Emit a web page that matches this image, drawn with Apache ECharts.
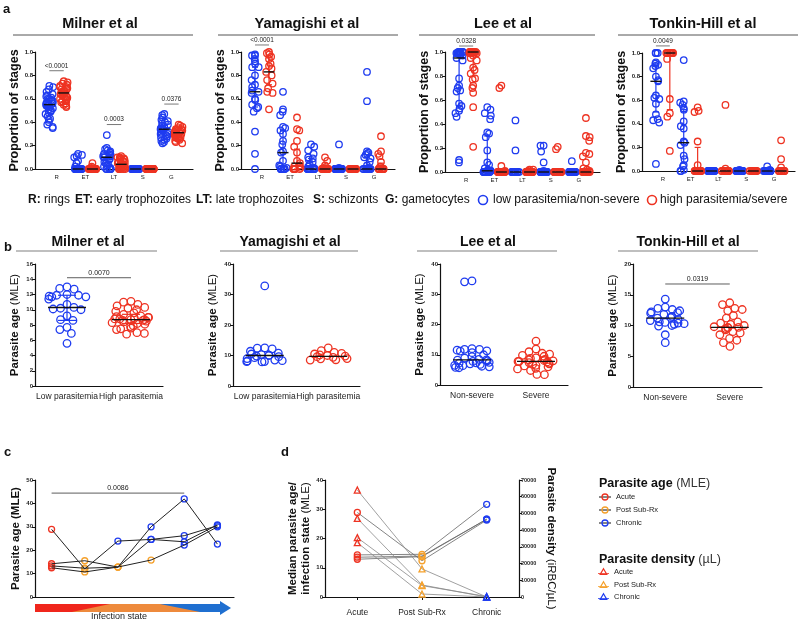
<!DOCTYPE html>
<html>
<head>
<meta charset="utf-8">
<script src="https://cdn.jsdelivr.net/npm/echarts@6.0.0/dist/echarts.min.js"></script>
<style>
html, body { margin: 0; padding: 0; background: #fff; }
#main { width: 800px; height: 621px; }
</style>
</head>
<body>
<div id="main"></div>
<script>
var FONT = "'Liberation Sans', Arial, Helvetica, sans-serif";
var BLUE = '#1f3cf0';
var RED = '#ee3322';
var ORANGE = '#f5a12c';

// ---- panel a: proportion of stages, order R, ET, LT, S, G
var stageLabels = ['R', 'ET', 'LT', 'S', 'G'];
var studyTitles = ['Milner et al', 'Yamagishi et al', 'Lee et al', 'Tonkin-Hill et al'];

var milnerLow = [
  [0.71,0.70,0.68,0.66,0.64,0.63,0.62,0.61,0.60,0.60,0.59,0.58,0.58,0.57,0.56,0.56,0.55,0.55,0.54,0.54,0.53,0.52,0.51,0.50,0.49,0.48,0.47,0.45,0.43,0.42,0.40,0.38,0.36,0.35],
  [0.13,0.12,0.11,0.10,0.07,0.05,0.02,0,0,0,0,0,0,0,0,0,0,0,0,0,0,0,0,0,0,0,0],
  [0.29,0.18,0.17,0.16,0.15,0.14,0.13,0.12,0.12,0.11,0.11,0.10,0.10,0.09,0.08,0.07,0.06,0.05,0.04,0.03,0.02,0.01,0,0,0,0,0],
  [0,0,0,0,0,0,0,0,0,0,0,0,0,0,0,0,0,0,0,0,0,0,0,0,0,0,0,0],
  [0.47,0.46,0.44,0.42,0.41,0.40,0.39,0.38,0.37,0.36,0.35,0.35,0.34,0.34,0.33,0.33,0.32,0.31,0.30,0.30,0.29,0.28,0.27,0.26,0.25,0.24,0.23,0.22]
];
var milnerHigh = [
  [0.75,0.74,0.73,0.72,0.71,0.70,0.70,0.69,0.68,0.68,0.67,0.66,0.66,0.65,0.65,0.64,0.64,0.63,0.62,0.62,0.61,0.60,0.60,0.59,0.58,0.58,0.57,0.56,0.55,0.54,0.53],
  [0.05,0.02,0.01,0,0,0,0,0,0,0,0,0,0,0,0,0,0,0,0,0,0,0,0,0,0,0,0],
  [0.11,0.10,0.10,0.09,0.09,0.08,0.08,0.07,0.07,0.06,0.06,0.05,0.05,0.04,0.04,0.04,0.03,0.03,0.03,0.02,0.02,0.02,0.01,0.01,0.01,0.01,0,0,0,0,0],
  [0,0,0,0,0,0,0,0,0,0,0,0,0,0,0,0,0,0,0,0,0,0,0,0,0,0,0,0],
  [0.38,0.37,0.36,0.35,0.34,0.34,0.33,0.33,0.32,0.32,0.31,0.31,0.31,0.30,0.30,0.30,0.29,0.29,0.28,0.28,0.27,0.27,0.26,0.26,0.25,0.24,0.23,0.22]
];
var yamLow = [
  [0.98,0.97,0.97,0.94,0.92,0.90,0.87,0.87,0.80,0.76,0.72,0.70,0.67,0.66,0.65,0.60,0.59,0.55,0.53,0.52,0.49,0.32,0.13,0.0],
  [0.66,0.51,0.49,0.46,0.36,0.35,0.33,0.30,0.24,0.21,0.15,0.14,0.07,0.03,0.02,0.01,0,0,0,0,0,0,0],
  [0.21,0.19,0.16,0.13,0.10,0.09,0.08,0.06,0.04,0.02,0.01,0,0,0,0,0,0,0,0,0,0,0,0],
  [0.21,0.01,0,0,0,0,0,0,0,0,0,0,0,0,0,0,0,0,0,0,0,0,0],
  [0.83,0.58,0.15,0.14,0.13,0.12,0.10,0.09,0.06,0.03,0.01,0,0,0,0,0,0,0,0,0,0,0,0]
];
var yamHigh = [
  [1.0,0.99,0.98,0.96,0.94,0.90,0.88,0.86,0.83,0.80,0.76,0.73,0.69,0.66,0.65,0.51],
  [0.44,0.34,0.33,0.24,0.19,0.14,0.07,0.05,0.03,0.02,0.01,0,0,0,0,0],
  [0.10,0.07,0.03,0.01,0,0,0,0,0,0,0,0,0,0,0,0],
  [0,0,0,0,0,0,0,0,0,0,0,0,0,0,0,0],
  [0.28,0.15,0.13,0.11,0.06,0.02,0,0,0,0,0,0,0,0,0,0]
];
var leeLow = [
  [1.0,1.0,1.0,1.0,1.0,1.0,0.99,0.99,0.99,0.99,0.98,0.98,0.98,0.97,0.95,0.93,0.78,0.72,0.70,0.68,0.67,0.57,0.55,0.53,0.51,0.49,0.46,0.10,0.08],
  [0.54,0.52,0.49,0.47,0.44,0.33,0.32,0.29,0.18,0.08,0.06,0.03,0.02,0.01,0.01,0.01,0.01,0,0,0,0,0,0,0,0,0,0,0,0,0,0],
  [0.43,0.18,0,0,0,0,0,0,0,0,0,0,0,0,0,0,0,0,0,0,0,0,0,0],
  [0.22,0.22,0.17,0.08,0.01,0,0,0,0,0,0,0,0,0,0,0,0,0,0,0,0,0,0],
  [0.09,0,0,0,0,0,0,0,0,0,0,0,0,0,0,0,0,0,0,0,0,0,0]
];
var leeHigh = [
  [1.0,1.0,1.0,1.0,1.0,1.0,1.0,1.0,1.0,1.0,0.99,0.99,0.99,0.97,0.95,0.93,0.87,0.85,0.82,0.78,0.77,0.72,0.70,0.66,0.54,0.21],
  [0.72,0.70,0.05,0.01,0,0,0,0,0,0,0,0,0,0,0,0,0,0,0,0,0,0,0,0],
  [0.02,0.02,0.01,0,0,0,0,0,0,0,0,0,0,0,0,0,0,0,0,0,0],
  [0.21,0.19,0,0,0,0,0,0,0,0,0,0,0,0,0,0,0,0,0,0,0,0],
  [0.45,0.30,0.29,0.26,0.16,0.15,0.13,0.08,0.03,0.02,0.01,0,0,0,0,0,0,0,0,0,0,0,0]
];
var thLow = [
  [1.0,1.0,1.0,0.92,0.91,0.90,0.89,0.87,0.80,0.77,0.76,0.64,0.62,0.61,0.57,0.48,0.44,0.43,0.41,0.06],
  [0.94,0.59,0.58,0.56,0.53,0.52,0.42,0.38,0.36,0.25,0.24,0.22,0.13,0.10,0.05,0.04,0.01,0,0],
  [0,0,0,0,0,0,0,0,0,0,0,0,0,0,0,0,0,0],
  [0.01,0,0,0,0,0,0,0,0,0,0,0,0,0,0,0,0,0],
  [0.04,0.01,0,0,0,0,0,0,0,0,0,0,0,0,0,0,0,0]
];
var thHigh = [
  [1.0,1.0,1.0,1.0,1.0,1.0,1.0,1.0,1.0,1.0,0.95,0.61,0.49,0.46,0.17],
  [0.54,0.51,0.50,0.25,0.05,0,0,0,0,0,0,0,0,0,0,0,0],
  [0.56,0.02,0,0,0,0,0,0,0,0,0,0,0,0,0,0],
  [0,0,0,0,0,0,0,0,0,0,0,0,0,0,0,0],
  [0.26,0.10,0.03,0,0,0,0,0,0,0,0,0,0,0,0]
];
// medians and [q1, q3] as drawn (null = no bar visible)
var aLowMed = [[0.55,0,0.10,0,0.34],[0.66,0.14,0,0,0],[0.95,0.01,0,0,0],[0.76,0.24,0,0,0]];
var aHighMed = [[0.65,0,0.04,0,0.31],[0.83,0.05,0,0,0],[1.0,0,0,0,0],[1.0,0,0,0,0]];
var aLowIqr = [
  [null,null,null,null,null],
  [[0.53,0.87],[0.02,0.33],[0,0.09],null,[0,0.10]],
  [[0.55,0.99],[0,0.30],null,null,null],
  [[0.50,0.90],[0.07,0.52],null,null,null]
];
var aHighIqr = [
  [null,null,null,null,null],
  [[0.72,0.95],[0,0.17],[0,0.01],null,[0,0.05]],
  [[0.80,1.0],null,null,null,[0,0.03]],
  [[0.52,1.0],[0,0.20],null,null,null]
];
// p-values: [stage, bracket height, text]
var aPvals = [
  [[0,0.84,'<0.0001'],[2,0.38,'0.0003'],[4,0.555,'0.0376']],
  [[0,1.06,'<0.0001']],
  [[0,1.05,'0.0328']],
  [[0,1.06,'0.0049']]
];

// ---- panel b: parasite age (MLE)
var bGroupLabels = [['Low parasitemia','High parasitemia'],['Low parasitemia','High parasitemia'],['Non-severe','Severe'],['Non-severe','Severe']];
var bYMax = [16, 40, 40, 20];
var bYStep = [2, 10, 10, 5];
var milnerAgeLow = [13.0,12.8,12.7,12.0,11.9,11.9,11.8,11.7,11.7,11.4,10.7,10.3,10.2,10.1,10.0,9.2,8.7,8.6,7.7,7.4,6.9,5.6];
var milnerAgeHigh = [11.1,11.0,10.7,10.5,10.3,10.2,10.0,9.8,9.6,9.4,9.2,9.1,9.0,9.0,8.9,8.8,8.8,8.7,8.7,8.6,8.6,8.5,8.4,8.3,8.2,8.1,7.9,7.8,7.6,7.5,7.4,7.0,6.9,6.8];
var yamAgeLow = [32.8,12.5,12.4,12.2,11.4,10.8,10.5,10.3,10.1,10.0,9.8,9.6,9.3,9.0,8.5,8.3,8.2,8.0,8.0,7.9];
var yamAgeHigh = [12.5,11.6,11.0,10.7,10.5,10.2,10.0,9.8,9.6,9.4,9.0,8.9,8.6,8.5];
var leeAgeLow = [34.4,34.1,12.0,11.8,11.8,11.5,11.3,11.2,10.7,10.0,9.4,8.9,8.5,8.3,8.2,8.0,7.8,7.5,7.3,7.2,7.0,6.8,6.5,6.4,6.2,6.0,5.8,5.7];
var leeAgeHigh = [14.5,11.9,11.0,10.5,10.2,9.8,9.5,9.0,8.8,8.5,8.3,8.1,8.0,7.8,7.8,7.6,7.4,7.2,7.0,6.8,6.5,6.3,6.0,5.5,5.3,4.8,3.5,3.4];
var thAgeLow = [14.3,13.0,12.8,12.6,12.4,12.2,12.1,12.0,11.8,11.5,11.3,11.2,11.0,10.8,10.6,10.5,10.4,10.3,10.2,10.0,9.9,8.5,7.2];
var thAgeHigh = [13.7,13.4,12.8,12.6,12.4,11.6,11.2,10.6,10.4,10.2,10.0,9.8,9.7,9.7,9.6,9.5,9.3,9.0,8.8,8.5,7.9,7.6,7.2,6.6];
var bMed = [[10.3,8.7],[10.0,9.7],[8.3,7.8],[11.2,9.7]];
var bIqr = [[[8.6,11.9],[8.2,9.4]],[null,null],[null,null],[null,null]];
var bPvals = [[14.2,'0.0070'], null, null, [16.75,'0.0319']];

// ---- panel c: parasite age along infection state (one row per subject)
var cAge = [
  [28.9,12.0,23.9,24.6,23.6,30.8],
  [14.2,15.5,12.8,30.0,41.9,22.6],
  [13.3,12.3,12.8,24.6,26.2,30.5],
  [12.5,10.7,12.8,15.8,22.2,30.0]
];
var cState = [
  ['A','P','C','C','C','C'],
  ['A','P','P','C','C','C'],
  ['A','P','P','C','C','C'],
  ['A','P','P','P','C','C']
];
var cPval = [0, 4, 44.4, '0.0086'];

// ---- panel d: median age and density per state
var dStates = ['Acute', 'Post Sub-Rx', 'Chronic'];
var dAge = [[28.9,12.4,26.3],[14.4,14.6,31.7],[13.6,14.0,26.6],[12.9,13.8,26.6]];
var dDensity = [[64000,16800,0],[47000,7200,0],[35500,6800,300],[32500,1800,0]];

var stateColor = { A: RED, P: ORANGE, C: BLUE };
var stateOrder = ['A', 'P', 'C'];

var grids = [], xAxes = [], yAxes = [], series = [];
var axLine = { show: true, lineStyle: { color: '#111', width: 1.2 } };
var axTick = { show: true, length: 3, lineStyle: { color: '#111', width: 1 } };

function lineEl(x1, y1, x2, y2, color, w) {
  return { type: 'line', shape: { x1: x1, y1: y1, x2: x2, y2: y2 }, style: { stroke: color, lineWidth: w } };
}

function statSeries(ax, rows, color, medW, capW) {
  return {
    type: 'custom', xAxisIndex: ax, yAxisIndex: ax, data: rows, silent: true, z: 5,
    encode: { x: 0, y: [1, 2, 3] },
    renderItem: function (params, api) {
      var x = api.value(0), m = api.value(1), lo = api.value(2), hi = api.value(3);
      var c = api.coord([x, m]);
      var kids = [];
      if (hi > lo) {
        var a = api.coord([x, lo]), b = api.coord([x, hi]);
        kids.push(lineEl(a[0], a[1], b[0], b[1], color, 1.2));
        kids.push(lineEl(a[0] - capW / 2, a[1], a[0] + capW / 2, a[1], color, 1.2));
        kids.push(lineEl(b[0] - capW / 2, b[1], b[0] + capW / 2, b[1], color, 1.2));
      }
      kids.push(lineEl(c[0] - medW / 2, c[1], c[0] + medW / 2, c[1], '#111', 1.4));
      return { type: 'group', children: kids };
    }
  };
}

function pvalSeries(ax, rows, texts, fs, color) {
  return {
    type: 'custom', xAxisIndex: ax, yAxisIndex: ax, data: rows, silent: true, z: 6, clip: false,
    encode: { x: [0, 1], y: 2 },
    renderItem: function (params, api) {
      var p1 = api.coord([api.value(0), api.value(2)]);
      var p2 = api.coord([api.value(1), api.value(2)]);
      return { type: 'group', children: [
        lineEl(p1[0], p1[1], p2[0], p2[1], color, 0.8),
        { type: 'text', style: { text: texts[params.dataIndex], x: (p1[0] + p2[0]) / 2, y: p1[1] - 1.5,
          align: 'center', verticalAlign: 'bottom', textAlign: 'center', textVerticalAlign: 'bottom',
          fontSize: fs, fontFamily: FONT, fill: '#222' } }
      ] };
    }
  };
}

function scatterSeries(ax, yAx, pts, color, size, symbol) {
  return {
    type: 'scatter', xAxisIndex: ax, yAxisIndex: yAx, data: pts, symbol: symbol || 'circle', symbolSize: size,
    silent: true, z: 3,
    itemStyle: { color: 'rgba(0,0,0,0)', borderColor: color, borderWidth: 1.3, opacity: 1 }
  };
}

// ---- build panel a
var aBoxes = [
  { left: 35, top: 52, width: 158, height: 117 },
  { left: 241, top: 52, width: 154, height: 117 },
  { left: 445, top: 52, width: 155, height: 120 },
  { left: 642, top: 53, width: 153, height: 118 }
];
var slotNames = ['pad0','R-low','R-high','ET-low','ET-high','LT-low','LT-high','S-low','S-high','G-low','G-high','pad1'];
var aLow = [milnerLow, yamLow, leeLow, thLow];
var aHigh = [milnerHigh, yamHigh, leeHigh, thHigh];

aBoxes.forEach(function (box, i) {
  grids.push(box);
  var g = grids.length - 1;
  var step = box.width / 11;
  xAxes.push({
    gridIndex: g, type: 'category', data: slotNames, boundaryGap: false,
    jitter: 14, jitterOverlap: false, jitterMargin: 0,
    axisLine: axLine, axisTick: { show: false },
    axisLabel: {
      interval: function (idx) { return idx % 2 === 1 && idx < 11; },
      formatter: function (v) { return v.split('-')[0]; },
      fontSize: 6, color: '#222', margin: 5, padding: [0, 0, 0, step]
    }
  });
  yAxes.push({
    gridIndex: g, type: 'value', min: 0, max: 1, interval: 0.2,
    name: 'Proportion of stages', nameLocation: 'middle', nameGap: 11,
    nameTextStyle: { fontSize: 12.5, fontWeight: 'bold', color: '#111' },
    axisLine: axLine, axisTick: axTick, splitLine: { show: false },
    axisLabel: { fontSize: 6, fontWeight: 'bold', color: '#222', margin: 2,
      formatter: function (v) { return v.toFixed(1); } }
  });
  [[aLow[i], BLUE, 0, aLowMed[i], aLowIqr[i]], [aHigh[i], RED, 1, aHighMed[i], aHighIqr[i]]].forEach(function (grp) {
    var pts = [], stats = [];
    grp[0].forEach(function (vals, s) {
      vals.forEach(function (v) { pts.push([1 + 2 * s + grp[2], v]); });
      var q = grp[4][s] || [grp[3][s], grp[3][s]];
      stats.push([1 + 2 * s + grp[2], grp[3][s], q[0], q[1]]);
    });
    series.push(scatterSeries(g, g, pts, grp[1], 6.5));
    series.push(statSeries(g, stats, grp[1], 11, 6));
  });
  var pv = aPvals[i];
  series.push(pvalSeries(g, pv.map(function (p) { return [1 + 2 * p[0], 2 + 2 * p[0], p[1]]; }),
    pv.map(function (p) { return p[2]; }), 6.5, '#555'));
});

// ---- build panel b
var bBoxes = [
  { left: 35, top: 264, width: 128, height: 122 },
  { left: 233, top: 264, width: 127, height: 122 },
  { left: 440, top: 264, width: 128, height: 121 },
  { left: 633, top: 264, width: 129, height: 123 }
];
var bLow = [milnerAgeLow, yamAgeLow, leeAgeLow, thAgeLow];
var bHigh = [milnerAgeHigh, yamAgeHigh, leeAgeHigh, thAgeHigh];
bBoxes.forEach(function (box, i) {
  grids.push(box);
  var g = grids.length - 1;
  xAxes.push({
    gridIndex: g, type: 'category', data: bGroupLabels[i], boundaryGap: true,
    jitter: 38, jitterOverlap: false, jitterMargin: 0,
    axisLine: axLine, axisTick: { show: false },
    axisLabel: { fontSize: 8.5, color: '#222', margin: 6, interval: 0 }
  });
  yAxes.push({
    gridIndex: g, type: 'value', min: 0, max: bYMax[i], interval: bYStep[i],
    name: '{b|Parasite age} {r|(MLE)}', nameLocation: 'middle', nameGap: 14,
    nameTextStyle: { fontSize: 11.5, color: '#111', rich: {
      b: { fontSize: 11.5, fontWeight: 'bold', color: '#111' },
      r: { fontSize: 11.5, color: '#111' } } },
    axisLine: axLine, axisTick: axTick, splitLine: { show: false },
    axisLabel: { fontSize: 6, fontWeight: 'bold', color: '#222', margin: 2 }
  });
  series.push(scatterSeries(g, g, bLow[i].map(function (v) { return [0, v]; }), BLUE, 7.5));
  series.push(scatterSeries(g, g, bHigh[i].map(function (v) { return [1, v]; }), RED, 7.5));
  [0, 1].forEach(function (k) {
    var q = bIqr[i][k] || [bMed[i][k], bMed[i][k]];
    series.push(statSeries(g, [[k, bMed[i][k], q[0], q[1]]], k ? RED : BLUE, 38, 18));
  });
  if (bPvals[i]) {
    series.push(pvalSeries(g, [[0, 1, bPvals[i][0]]], [bPvals[i][1]], 7, '#333'));
  }
});

// ---- build panel c
grids.push({ left: 35, top: 480, width: 199, height: 117 });
var cg = grids.length - 1;
xAxes.push({ gridIndex: cg, type: 'category', data: ['1','2','3','4','5','6'], boundaryGap: true,
  axisLine: axLine, axisTick: { show: false }, axisLabel: { show: false } });
yAxes.push({ gridIndex: cg, type: 'value', min: 0, max: 50, interval: 10,
  name: 'Parasite age (MLE)', nameLocation: 'middle', nameGap: 13,
  nameTextStyle: { fontSize: 11.5, fontWeight: 'bold', color: '#111' },
  axisLine: axLine, axisTick: axTick, splitLine: { show: false },
  axisLabel: { fontSize: 6, fontWeight: 'bold', color: '#222', margin: 2 } });
cAge.forEach(function (row) {
  series.push({ type: 'line', xAxisIndex: cg, yAxisIndex: cg, data: row, symbol: 'none', silent: true, z: 4,
    lineStyle: { color: '#222', width: 1 } });
});
stateOrder.forEach(function (st) {
  var pts = [];
  cAge.forEach(function (row, r) { row.forEach(function (v, p) { if (cState[r][p] === st) pts.push([p, v]); }); });
  series.push(scatterSeries(cg, cg, pts, stateColor[st], 6));
});
series.push(pvalSeries(cg, [[cPval[0], cPval[1], cPval[2]]], [cPval[3]], 7, '#333'));

// ---- build panel d
grids.push({ left: 325, top: 480, width: 194, height: 117 });
var dg = grids.length - 1;
xAxes.push({ gridIndex: dg, type: 'category', data: dStates, boundaryGap: true,
  axisLine: axLine, axisTick: { show: true, alignWithLabel: true, length: 3, lineStyle: { color: '#111' } },
  axisLabel: { fontSize: 8.5, color: '#222', margin: 11 } });
yAxes.push({ gridIndex: dg, type: 'value', min: 0, max: 40, interval: 10,
  name: '{b|Median parasite age/}\n{b|infection state} {r|(MLE)}', nameLocation: 'middle', nameGap: 12,
  nameTextStyle: { fontSize: 11.5, lineHeight: 13, color: '#111', rich: {
    b: { fontSize: 11.5, fontWeight: 'bold', color: '#111', lineHeight: 13 },
    r: { fontSize: 11.5, color: '#111', lineHeight: 13 } } },
  axisLine: axLine, axisTick: axTick, splitLine: { show: false },
  axisLabel: { fontSize: 6, fontWeight: 'bold', color: '#222', margin: 2 } });
var dLeft = yAxes.length - 1;
yAxes.push({ gridIndex: dg, type: 'value', position: 'right', min: 0, max: 70000, interval: 10000,
  name: '{b|Parasite density} {r|(iRBC/µL)}', nameLocation: 'middle', nameGap: 26, nameRotate: -90,
  nameTextStyle: { fontSize: 11.5, color: '#111', rich: {
    b: { fontSize: 11.5, fontWeight: 'bold', color: '#111' },
    r: { fontSize: 11.5, color: '#111' } } },
  axisLine: axLine, axisTick: axTick, splitLine: { show: false },
  axisLabel: { fontSize: 5.5, fontWeight: 'bold', color: '#222', margin: 2,
    formatter: function (v) { return String(v); } } });
var dRight = yAxes.length - 1;
dAge.forEach(function (row) {
  series.push({ type: 'line', xAxisIndex: dg, yAxisIndex: dLeft, data: row, symbol: 'none', silent: true, z: 2,
    lineStyle: { color: '#666', width: 0.8 } });
});
dDensity.forEach(function (row) {
  series.push({ type: 'line', xAxisIndex: dg, yAxisIndex: dRight, data: row, symbol: 'none', silent: true, z: 2,
    lineStyle: { color: '#888', width: 0.8 } });
});
stateOrder.forEach(function (st, p) {
  series.push(scatterSeries(dg, dLeft, dAge.map(function (row) { return [p, row[p]]; }), stateColor[st], 6));
  series.push(scatterSeries(dg, dRight, dDensity.map(function (row) { return [p, row[p]]; }), stateColor[st], 6, 'triangle'));
});

// ---- text, titles, legends
function txt(x, y, text, size, opts) {
  var st = { text: text, x: x, y: y, fontSize: size, fontFamily: FONT, fill: '#111',
    align: 'left', verticalAlign: 'middle', textAlign: 'left', textVerticalAlign: 'middle' };
  for (var k in (opts || {})) st[k] = opts[k];
  return { type: 'text', silent: true, style: st };
}
var graphics = [];
graphics.push(txt(3, 9, 'a', 13, { fontWeight: 'bold' }));
graphics.push(txt(4, 247, 'b', 13, { fontWeight: 'bold' }));
graphics.push(txt(4, 452, 'c', 13, { fontWeight: 'bold' }));
graphics.push(txt(281, 452, 'd', 13, { fontWeight: 'bold' }));

var aTitleX = [100, 307, 503, 703];
var aRule = [[13, 193], [218, 398], [419, 595], [618, 798]];
var bTitleX = [88, 290, 488, 688];
var bRule = [[16, 157], [220, 358], [417, 557], [618, 758]];
studyTitles.forEach(function (t, i) {
  graphics.push(txt(aTitleX[i], 24, t, 14.5, { fontWeight: 'bold', align: 'center', textAlign: 'center' }));
  graphics.push(lineEl(aRule[i][0], 35, aRule[i][1], 35, '#555', 1));
  graphics.push(txt(bTitleX[i], 242, t, 14, { fontWeight: 'bold', align: 'center', textAlign: 'center' }));
  graphics.push(lineEl(bRule[i][0], 251, bRule[i][1], 251, '#aaa', 1.5));
});

var keyRich = { k: { fontWeight: 'bold', fontSize: 12, fontFamily: FONT, fill: '#111' },
  v: { fontSize: 12, fontFamily: FONT, fill: '#111' } };
[['R:', ' rings', 28], ['ET:', ' early trophozoites', 75], ['LT:', ' late trophozoites', 196],
 ['S:', ' schizonts', 313], ['G:', ' gametocytes', 385]].forEach(function (k) {
  graphics.push(txt(k[2], 200, '{k|' + k[0] + '}{v|' + k[1] + '}', 12, { rich: keyRich }));
});
graphics.push({ type: 'circle', silent: true, shape: { cx: 483, cy: 200, r: 4.5 }, style: { fill: 'none', stroke: BLUE, lineWidth: 1.6 } });
graphics.push(txt(493, 200, 'low parasitemia/non-severe', 12));
graphics.push({ type: 'circle', silent: true, shape: { cx: 652, cy: 200, r: 4.5 }, style: { fill: 'none', stroke: RED, lineWidth: 1.6 } });
graphics.push(txt(660, 200, 'high parasitemia/severe', 12));

// infection state arrow under panel c
graphics.push({ type: 'polygon', silent: true, shape: { points: [[35, 604], [221, 604], [221, 612], [35, 612]] }, style: { fill: '#ee8a3c' } });
graphics.push({ type: 'polygon', silent: true, shape: { points: [[35, 604], [110, 604], [72, 612], [35, 612]] }, style: { fill: '#f0261c' } });
graphics.push({ type: 'polygon', silent: true, shape: { points: [[160, 604], [221, 604], [221, 612], [200, 612]] }, style: { fill: '#1f6fd0' } });
graphics.push({ type: 'polygon', silent: true, shape: { points: [[220, 601], [231, 608], [220, 615]] }, style: { fill: '#1f6fd0' } });
graphics.push(txt(119, 617, 'Infection state', 9, { align: 'center', textAlign: 'center', fill: '#222' }));

// legend for panel d
var legRich = { b: { fontWeight: 'bold', fontSize: 12.5, fontFamily: FONT, fill: '#111' },
  r: { fontSize: 12.5, fontFamily: FONT, fill: '#333' } };
graphics.push(txt(599, 484, '{b|Parasite age} {r|(MLE)}', 12.5, { rich: legRich }));
graphics.push(txt(599, 560, '{b|Parasite density} {r|(µL)}', 12.5, { rich: legRich }));
var legY1 = [497, 510, 523];
var legY2 = [572, 585, 597];
stateOrder.forEach(function (st, k) {
  graphics.push(lineEl(599, legY1[k], 611, legY1[k], '#111', 1));
  graphics.push({ type: 'circle', silent: true, shape: { cx: 605, cy: legY1[k], r: 3 }, style: { fill: 'none', stroke: stateColor[st], lineWidth: 1.3 } });
  graphics.push(txt(616, legY1[k], dStates[k], 7.5, { fill: '#222' }));
  graphics.push(lineEl(598, legY2[k] + 1.5, 609, legY2[k] + 1.5, stateColor[st], 0.8));
  graphics.push({ type: 'polygon', silent: true, shape: { points: [[603.5, legY2[k] - 3.2], [606.8, legY2[k] + 2.5], [600.2, legY2[k] + 2.5]] },
    style: { fill: 'none', stroke: stateColor[st], lineWidth: 1.2 } });
  graphics.push(txt(614, legY2[k], dStates[k], 7.5, { fill: '#222' }));
});

var chart = echarts.init(document.getElementById('main'), null, { renderer: 'canvas' });
chart.setOption({
  animation: false,
  backgroundColor: '#fff',
  textStyle: { fontFamily: FONT },
  grid: grids,
  xAxis: xAxes,
  yAxis: yAxes,
  series: series,
  graphic: graphics
});
</script>
</body>
</html>
